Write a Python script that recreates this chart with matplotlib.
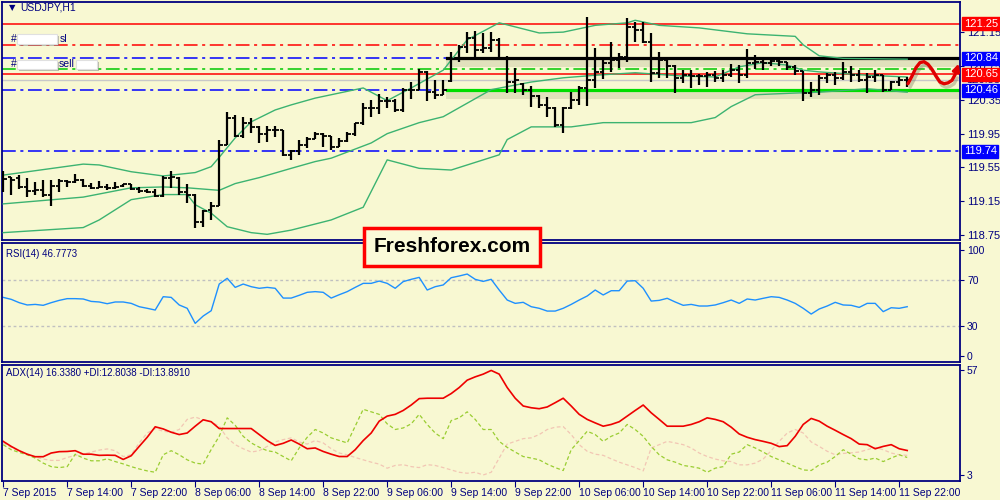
import matplotlib
matplotlib.use("Agg")
import matplotlib.pyplot as plt
import matplotlib.patheffects as pe
from matplotlib.patches import Rectangle
import numpy as np

# ---- USDJPY H1 bars, 7 Sep 06:00 .. 11 Sep 23:00 ----
bar_open = [119.43, 119.44, 119.43, 119.32, 119.27, 119.28, 119.22, 119.33, 119.39, 119.38,
            119.40, 119.33, 119.31, 119.32, 119.31, 119.33, 119.35, 119.30, 119.27, 119.26,
            119.21, 119.42, 119.43, 119.26, 119.22, 118.90, 119.05, 119.10, 119.81, 120.13,
            119.92, 120.07, 120.03, 119.94, 119.99, 119.99, 119.70, 119.74, 119.81, 119.89,
            119.94, 119.92, 119.79, 119.86, 119.95, 120.07, 120.25, 120.25, 120.34, 120.33,
            120.23, 120.47, 120.47, 120.68, 120.44, 120.41, 120.57, 120.85, 120.97, 121.08,
            120.94, 120.96, 121.06, 120.85, 120.56, 120.54, 120.47, 120.40, 120.29, 120.25,
            120.05, 120.25, 120.35, 120.49, 120.58, 120.68, 120.79, 120.82, 120.86, 121.21,
            121.18, 121.03, 120.67, 120.82, 120.75, 120.61, 120.64, 120.63, 120.63, 120.64,
            120.61, 120.64, 120.70, 120.64, 120.79, 120.80, 120.79, 120.81, 120.80, 120.74,
            120.69, 120.43, 120.47, 120.61, 120.64, 120.61, 120.68, 120.64, 120.58, 120.62,
            120.64, 120.47, 120.56, 120.58]
bar_high = [119.51, 119.44, 119.46, 119.43, 119.38, 119.40, 119.40, 119.41, 119.40, 119.47,
            119.41, 119.37, 119.39, 119.35, 119.38, 119.36, 119.35, 119.32, 119.29, 119.30,
            119.45, 119.51, 119.44, 119.35, 119.24, 119.05, 119.14, 119.87, 120.20, 120.17,
            120.15, 120.14, 120.04, 120.04, 120.04, 119.99, 119.76, 119.88, 119.91, 119.97,
            119.96, 119.92, 119.90, 119.97, 120.08, 120.31, 120.35, 120.42, 120.38, 120.36,
            120.49, 120.56, 120.71, 120.69, 120.58, 120.58, 120.92, 121.00, 121.15, 121.16,
            121.14, 121.15, 121.08, 120.87, 120.73, 120.55, 120.51, 120.41, 120.38, 120.27,
            120.27, 120.44, 120.51, 121.33, 120.96, 120.83, 121.03, 120.90, 121.32, 121.27,
            121.27, 121.14, 120.92, 120.85, 120.76, 120.70, 120.70, 120.66, 120.68, 120.69,
            120.70, 120.77, 120.76, 120.95, 120.88, 120.83, 120.83, 120.83, 120.80, 120.76,
            120.69, 120.56, 120.64, 120.67, 120.68, 120.80, 120.75, 120.70, 120.67, 120.70,
            120.64, 120.57, 120.62, 120.62]
bar_low = [119.26, 119.22, 119.30, 119.20, 119.22, 119.20, 119.10, 119.26, 119.32, 119.37,
           119.32, 119.30, 119.31, 119.28, 119.30, 119.32, 119.28, 119.25, 119.25, 119.20,
           119.20, 119.31, 119.22, 119.13, 118.84, 118.85, 118.93, 119.09, 119.81, 119.91,
           119.90, 119.96, 119.84, 119.85, 119.91, 119.68, 119.64, 119.70, 119.78, 119.89,
           119.79, 119.76, 119.79, 119.85, 119.92, 120.05, 120.15, 120.18, 120.25, 120.20,
           120.20, 120.36, 120.47, 120.34, 120.36, 120.41, 120.56, 120.80, 120.90, 120.86,
           120.90, 120.92, 120.82, 120.43, 120.43, 120.41, 120.27, 120.25, 120.15, 120.03,
           119.96, 120.24, 120.29, 120.28, 120.49, 120.60, 120.68, 120.73, 120.80, 121.03,
           121.02, 120.56, 120.61, 120.61, 120.43, 120.55, 120.49, 120.53, 120.50, 120.56,
           120.56, 120.62, 120.55, 120.61, 120.71, 120.70, 120.75, 120.75, 120.70, 120.64,
           120.33, 120.38, 120.41, 120.55, 120.53, 120.58, 120.56, 120.56, 120.43, 120.56,
           120.44, 120.47, 120.51, 120.50]
bar_close = [119.41, 119.40, 119.32, 119.27, 119.28, 119.22, 119.33, 119.39, 119.38, 119.40,
             119.33, 119.31, 119.32, 119.31, 119.32, 119.35, 119.30, 119.27, 119.26, 119.21,
             119.42, 119.44, 119.26, 119.22, 118.90, 119.04, 119.10, 119.82, 120.13, 119.92,
             120.07, 120.03, 119.94, 119.99, 119.99, 119.70, 119.74, 119.81, 119.89, 119.94,
             119.92, 119.79, 119.86, 119.95, 120.07, 120.25, 120.25, 120.34, 120.33, 120.23,
             120.47, 120.47, 120.68, 120.44, 120.41, 120.47, 120.83, 120.97, 121.08, 120.94,
             120.96, 121.06, 120.85, 120.56, 120.58, 120.47, 120.40, 120.29, 120.25, 120.05,
             120.25, 120.35, 120.49, 120.58, 120.68, 120.79, 120.82, 120.86, 121.21, 121.18,
             121.03, 120.67, 120.82, 120.75, 120.61, 120.64, 120.63, 120.63, 120.64, 120.61,
             120.64, 120.70, 120.64, 120.79, 120.80, 120.79, 120.81, 120.80, 120.74, 120.69,
             120.43, 120.47, 120.61, 120.64, 120.61, 120.68, 120.64, 120.58, 120.62, 120.64,
             120.47, 120.56, 120.58, 120.58]

# Bollinger bands, read at selected bars
bb_up_bar = [0, 10, 12, 16, 20, 24, 26, 27, 29, 31, 34, 36, 39, 45, 48, 51, 55, 58, 62, 67,
             70, 74, 78, 79, 82, 87, 93, 99, 100, 102, 105, 113]
bb_up = [119.46, 119.59, 119.58, 119.50, 119.45, 119.49, 119.56, 119.67, 119.90, 120.09,
         120.23, 120.29, 120.37, 120.49, 120.34, 120.49, 120.70, 121.06, 121.26, 121.14,
         121.15, 121.23, 121.26, 121.29, 121.23, 121.20, 121.13, 121.10, 121.00, 120.87,
         120.84, 120.83]
bb_mid_bar = [0, 10, 16, 20, 23, 27, 29, 32, 36, 39, 41, 46, 48, 52, 55, 58, 61, 66, 70, 74,
              79, 85, 89, 92, 95, 98, 100, 102, 108, 113]
bb_mid = [119.12, 119.20, 119.31, 119.32, 119.31, 119.28, 119.36, 119.43, 119.54, 119.62,
          119.66, 119.84, 119.95, 120.08, 120.15, 120.31, 120.47, 120.56, 120.61, 120.64,
          120.67, 120.63, 120.62, 120.74, 120.79, 120.76, 120.70, 120.68, 120.64, 120.62]
bb_low_bar = [0, 10, 12, 16, 20, 23, 24, 26, 28, 31, 33, 36, 41, 45, 48, 52, 56, 62, 63, 66,
              71, 75, 86, 89, 91, 94, 99, 102, 108, 113]
bb_low = [118.78, 118.84, 118.93, 119.17, 119.23, 119.23, 119.11, 119.01, 118.85, 118.78,
          118.76, 118.81, 118.93, 119.08, 119.64, 119.54, 119.52, 119.70, 119.88, 120.03,
          120.03, 120.08, 120.08, 120.14, 120.27, 120.41, 120.43, 120.44, 120.48, 120.44]

rsi = [54.9, 53.2, 50.3, 48.3, 48.8, 48.0, 50.3, 52.3, 53.8, 53.8,
       53.5, 51.4, 50.9, 49.4, 50.9, 50.9, 49.7, 46.8, 45.4, 43.9,
       55.5, 54.9, 48.3, 45.4, 32.3, 38.7, 43.3, 66.5, 71.5, 63.6,
       66.5, 64.2, 62.8, 63.6, 62.8, 54.3, 54.3, 56.7, 59.3, 59.9,
       59.3, 54.3, 57.2, 59.9, 63.6, 67.1, 67.1, 69.1, 67.1, 62.8,
       68.6, 70.6, 72.3, 61.3, 64.2, 65.7, 72.0, 73.5, 75.2, 70.6,
       68.8, 70.6, 61.3, 52.6, 49.7, 50.6, 46.8, 45.4, 43.0, 43.0,
       45.4, 48.8, 52.6, 56.1, 61.3, 57.0, 60.7, 60.7, 69.1, 69.4,
       62.8, 51.7, 52.3, 54.1, 50.9, 48.0, 48.8, 47.4, 47.4, 48.3,
       50.3, 52.6, 49.7, 53.5, 52.6, 54.1, 55.5, 54.9, 52.6, 49.7,
       45.4, 40.4, 44.8, 47.4, 50.6, 48.3, 48.0, 46.2, 49.7, 49.7,
       42.5, 45.9, 45.4, 46.8]

adx = [20.3, 17.7, 15.5, 13.7, 12.4, 12.4, 14.3, 15.0, 15.1, 15.5,
       13.7, 13.7, 13.1, 13.2, 13.1, 11.0, 12.9, 17.7, 22.4, 27.8,
       26.7, 25.0, 23.8, 24.6, 28.1, 31.4, 30.4, 26.9, 26.9, 26.9,
       26.9, 26.9, 23.8, 20.7, 18.2, 19.3, 21.0, 18.9, 16.5, 16.9,
       15.1, 13.7, 12.5, 12.5, 16.0, 20.7, 24.6, 30.7, 33.3, 34.2,
       36.2, 39.0, 42.3, 42.5, 42.5, 42.5, 44.9, 48.0, 51.8, 53.5,
       54.9, 56.8, 54.9, 48.0, 42.5, 38.5, 37.6, 37.1, 38.0, 40.2,
       42.5, 38.5, 34.2, 31.6, 29.8, 28.1, 29.0, 30.4, 33.3, 36.2,
       39.0, 35.0, 31.6, 28.1, 28.1, 28.1, 29.0, 30.4, 32.4, 31.6,
       30.4, 27.6, 24.1, 22.4, 21.2, 20.3, 19.3, 17.6, 18.1, 22.9,
       29.0, 32.1, 30.7, 28.1, 26.0, 23.8, 21.7, 18.9, 18.6, 16.5,
       17.7, 18.6, 16.5, 15.6]
plus_di = [18.6, 16.0, 14.6, 13.4, 11.7, 9.1, 7.3, 6.8, 7.3, 13.7,
           11.7, 10.3, 10.3, 11.3, 9.9, 8.7, 7.3, 6.1, 5.1, 4.4,
           13.4, 15.5, 13.4, 10.8, 9.1, 8.6, 16.1, 22.9, 32.4, 28.6,
           22.9, 19.5, 17.3, 15.5, 14.8, 12.5, 10.3, 16.9, 22.4, 26.4,
           24.6, 22.1, 20.8, 19.5, 28.1, 36.8, 35.5, 34.2, 29.3, 26.4,
           27.2, 29.3, 34.2, 29.0, 24.6, 21.7, 31.0, 32.4, 35.5, 31.6,
           26.4, 26.4, 20.3, 17.2, 14.8, 12.5, 11.7, 10.8, 8.6, 6.8,
           5.3, 16.0, 20.7, 25.5, 23.8, 20.3, 22.9, 24.6, 29.0, 26.4,
           22.9, 17.7, 13.4, 10.8, 9.6, 7.9, 7.3, 6.5, 4.4, 6.5,
           7.3, 13.7, 14.8, 18.6, 16.9, 14.8, 12.5, 10.8, 9.1, 7.3,
           5.6, 5.3, 8.2, 9.6, 12.5, 16.0, 13.7, 11.3, 10.8, 11.7,
           9.9, 11.7, 13.4, 12.0]
minus_di = [19.5, 17.2, 15.2, 13.7, 12.2, 11.2, 10.5, 10.5, 12.0, 13.1,
            13.7, 14.8, 15.8, 16.4, 15.5, 12.5, 13.4, 19.5, 24.6, 26.9,
            25.5, 25.0, 26.4, 31.6, 32.8, 31.4, 30.4, 28.1, 22.1, 18.6,
            16.5, 14.8, 15.5, 17.7, 20.0, 21.2, 22.1, 20.0, 18.9, 20.7,
            19.5, 16.5, 14.3, 13.4, 12.0, 10.8, 9.6, 8.6, 6.5, 7.9,
            8.3, 7.3, 6.8, 8.3, 7.9, 6.8, 5.6, 4.4, 3.9, 4.4,
            3.0, 4.4, 11.7, 18.9, 20.3, 21.7, 22.1, 23.8, 26.4, 27.6,
            27.9, 23.8, 18.6, 15.2, 13.7, 13.1, 11.3, 9.6, 8.2, 6.8,
            5.1, 16.9, 18.6, 20.3, 19.5, 18.6, 16.9, 14.3, 12.5, 11.2,
            10.3, 9.9, 8.2, 8.2, 9.1, 11.2, 15.5, 20.3, 24.6, 26.4,
            24.6, 20.0, 17.7, 15.2, 13.4, 14.1, 14.4, 14.8, 16.0, 17.2,
            16.0, 14.3, 13.4, 13.1]

time_labels = ["7 Sep 2015", "7 Sep 14:00", "7 Sep 22:00", "8 Sep 06:00", "8 Sep 14:00",
               "8 Sep 22:00", "9 Sep 06:00", "9 Sep 14:00", "9 Sep 22:00", "10 Sep 06:00",
               "10 Sep 14:00", "10 Sep 22:00", "11 Sep 06:00", "11 Sep 14:00", "11 Sep 22:00"]

price_ticks = [121.15, 120.75, 120.35, 119.95, 119.55, 119.15, 118.75]
# (price, style, colour, boxed label colour or None)
levels = [(121.25, '-', 'red', 'red'),
          (121.00, 'dashdot', 'red', None),
          (120.84, 'dashdot', 'blue', 'blue'),
          (120.71, 'dashdot', '#00c800', None),
          (120.65, '-', 'red', 'red'),
          (120.46, 'dashdot', 'blue', 'blue'),
          (119.74, 'dashdot', 'blue', 'blue')]
bid_price = 120.58
resist_level = 120.84
support_level = 120.46
zone_start = 55.5

# hand drawn forecast squiggle
fc_x = [113.1, 113.6, 114.1, 114.6, 115.1, 115.6, 116.1, 116.6, 117.1, 117.6, 118.1, 118.6, 119.0]
fc_y = [120.54, 120.63, 120.73, 120.79, 120.80, 120.77, 120.71, 120.63, 120.56, 120.54, 120.55,
        120.58, 120.65]

BG = '#f8f8d2'
NAVY = '#000080'
FONT = ['Liberation Sans', 'DejaVu Sans']
plt.rcParams['font.family'] = FONT

fig = plt.figure(figsize=(10, 5), dpi=100, facecolor=BG)
ax1 = fig.add_axes([0.002, 0.52, 0.958, 0.476], facecolor=BG)
ax2 = fig.add_axes([0.002, 0.276, 0.958, 0.238], facecolor=BG, sharex=ax1)
ax3 = fig.add_axes([0.002, 0.038, 0.958, 0.232], facecolor=BG, sharex=ax1)

idx = np.arange(len(bar_close))
dash_dot = (0, (9, 3, 2, 3))

# ---- main price panel ----
ax1.axhline(bid_price, color='#c8c8c8', lw=1, zorder=1)
for lvl, ls, col, box in levels:
    ax1.axhline(lvl, color=col, lw=1.1, linestyle=dash_dot if ls == 'dashdot' else '-', zorder=1)

shadow = [pe.SimpleLineShadow(offset=(1, -3), shadow_color='#909070', alpha=0.22, linewidth=5),
          pe.Normal()]
ax1.plot([zone_start, 130], [resist_level, resist_level], color='black', lw=2.3,
         path_effects=shadow, zorder=2)
ax1.plot([zone_start, 130], [support_level, support_level], color='#00dd00', lw=2.3,
         path_effects=shadow, zorder=2)

band_col = '#3cb371'
ax1.plot(bb_up_bar, bb_up, color=band_col, lw=1, zorder=3)
ax1.plot(bb_mid_bar, bb_mid, color=band_col, lw=1, zorder=3)
ax1.plot(bb_low_bar, bb_low, color=band_col, lw=1, zorder=3)

ax1.vlines(idx, bar_low, bar_high, color='black', lw=1.6, zorder=4)
ax1.hlines(bar_open, idx - 0.42, idx, color='black', lw=1.3, zorder=4)
ax1.hlines(bar_close, idx, idx + 0.42, color='black', lw=1.3, zorder=4)

red_shadow = [pe.SimpleLineShadow(offset=(1.5, -2.5), shadow_color='#707050', alpha=0.35),
              pe.Normal()]
ax1.plot(fc_x, fc_y, color='#e00000', lw=2.4, solid_capstyle='round',
         path_effects=red_shadow, zorder=6, clip_on=False)
ax1.annotate('', xy=(119.55, 120.81), xytext=(fc_x[-1], fc_y[-1]),
             arrowprops=dict(arrowstyle='-|>', color='#e00000', lw=2.2, mutation_scale=10),
             zorder=6, annotation_clip=False)

ax1.set_xlim(-0.15, 119.6)
ax1.set_ylim(118.693, 121.506)
ax1.yaxis.tick_right()
ax1.set_yticks(price_ticks)
ax1.set_yticklabels([f"{p:.2f}" for p in price_ticks])
ax1.tick_params(axis='y', colors=NAVY, labelsize=8, length=3, pad=2)
ax1.tick_params(axis='x', bottom=False, labelbottom=False)

lab_tr = ax1.get_yaxis_transform()
ax1.text(1.006, bid_price, f"{bid_price:.2f}", transform=lab_tr, fontsize=8, color=NAVY,
         va='center', ha='left', zorder=1)
for lvl, ls, col, box in levels:
    if box:
        ax1.text(1.004, lvl, f"{lvl:.2f}", transform=lab_tr, fontsize=8, color='white',
                 va='center', ha='left', clip_on=False, zorder=10,
                 bbox=dict(boxstyle='square,pad=0.15', facecolor=col, edgecolor=col))

ax1.text(0.007, 0.977, '\u25bc', transform=ax1.transAxes, fontsize=6, color=NAVY,
         va='center', family='DejaVu Sans')
ax1.text(0.019, 0.977, 'USDJPY,H1', transform=ax1.transAxes, fontsize=7.5, color=NAVY,
         va='center')

# masked order labels
sl_row = 121.07
sell_row = 120.77
ax1.text(0.009, sl_row, '#', fontsize=7.5, color=NAVY, va='center', transform=lab_tr)
ax1.text(0.060, sl_row, 'sl', fontsize=7.5, color=NAVY, va='center', transform=lab_tr)
ax1.text(0.009, sell_row, '#', fontsize=7.5, color=NAVY, va='center', transform=lab_tr)
ax1.text(0.059, sell_row, 'sell', fontsize=7.5, color=NAVY, va='center', transform=lab_tr)
for x0, w, pc in [(0.016, 0.041, sl_row), (0.016, 0.041, sell_row), (0.077, 0.022, sell_row)]:
    r = Rectangle((x0, pc - 0.055), w, 0.11, transform=lab_tr,
                  facecolor='white', edgecolor='#e0e0e0', lw=0.8, zorder=8,
                  path_effects=[pe.withSimplePatchShadow(offset=(1.5, -1.5),
                                                         shadow_rgbFace='#808080', alpha=0.5)])
    ax1.add_patch(r)

# ---- RSI panel ----
ax2.axhline(70, color='#c0c0c0', lw=1, linestyle=(0, (2, 2)))
ax2.axhline(30, color='#c0c0c0', lw=1, linestyle=(0, (2, 2)))
ax2.plot(idx, rsi, color='#1e90ff', lw=1)
ax2.set_ylim(-1.3, 102.2)
ax2.yaxis.tick_right()
ax2.set_yticks([96, 70, 30, 4])
ax2.set_yticklabels(['100', '70', '30', '0'])
ax2.tick_params(axis='y', colors=NAVY, labelsize=7.5, length=3, pad=2)
ax2.tick_params(axis='x', bottom=False, labelbottom=False)
ax2.text(0.004, 0.905, "RSI(14) 46.7773", transform=ax2.transAxes, fontsize=7,
         color=NAVY, va='center')

# ---- ADX panel ----
ax3.plot(idx, minus_di, color='#f2c6b4', lw=0.9, linestyle=(0, (3, 2)))
ax3.plot(idx, plus_di, color='#9acd32', lw=0.9, linestyle=(0, (3, 2)))
ax3.plot(idx, adx, color='#ee0000', lw=1.2)
ax3.set_ylim(-0.1, 59.6)
ax3.yaxis.tick_right()
ax3.set_yticks([57, 3])
ax3.set_yticklabels(['57', '3'])
ax3.tick_params(axis='y', colors=NAVY, labelsize=7.5, length=3, pad=2)
ax3.text(0.004, 0.93, "ADX(14) 16.3380 +DI:12.8038 -DI:13.8910", transform=ax3.transAxes,
         fontsize=7, color=NAVY, va='center')
ax3.set_xticks(np.arange(0, len(bar_close), 8))
ax3.set_xticklabels(time_labels, ha='left')
ax3.tick_params(axis='x', colors=NAVY, labelsize=7.5, length=4, pad=1, direction='out')

for ax in (ax1, ax2, ax3):
    for s in ax.spines.values():
        s.set_color(NAVY)
        s.set_linewidth(1.3)

# watermark box
fig.text(0.452, 0.506, 'Freshforex.com', fontsize=15, fontweight='bold', color='black',
         ha='center', va='center', family=['Liberation Sans Narrow', 'Liberation Sans'],
         zorder=20,
         bbox=dict(boxstyle='square,pad=0.45', facecolor='#fafad8', edgecolor='red', lw=2.5))

fig.savefig('out.png', dpi=100, facecolor=BG)
